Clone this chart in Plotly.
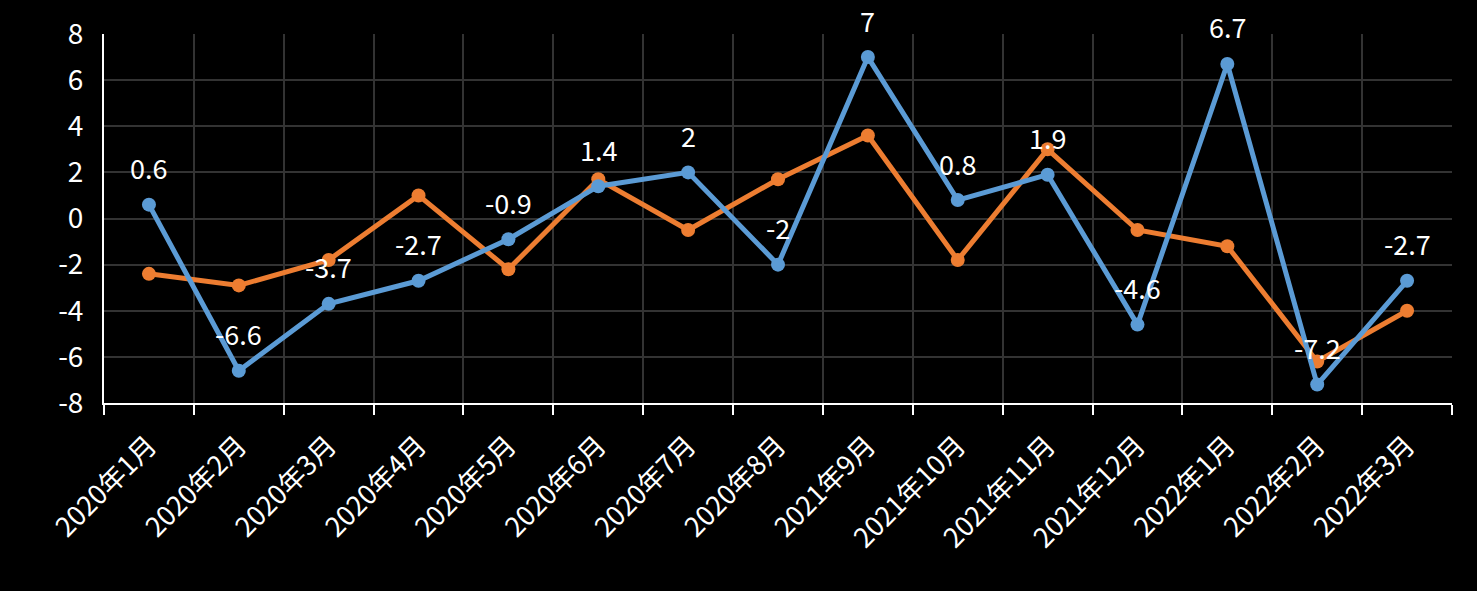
import plotly.graph_objects as go

months = ["2020年1月", "2020年2月", "2020年3月", "2020年4月", "2020年5月",
          "2020年6月", "2020年7月", "2020年8月", "2021年9月", "2021年10月",
          "2021年11月", "2021年12月", "2022年1月", "2022年2月", "2022年3月"]
blue_vals = [0.6, -6.6, -3.7, -2.7, -0.9, 1.4, 2, -2, 7, 0.8, 1.9, -4.6, 6.7, -7.2, -2.7]
orange_vals = [-2.4, -2.9, -1.8, 1.0, -2.2, 1.7, -0.5, 1.7, 3.6, -1.8, 3.0, -0.5, -1.2, -6.2, -4.0]
y_ticks = [-8, -6, -4, -2, 0, 2, 4, 6, 8]

FONT = "Noto Sans CJK SC"

fig = go.Figure()
fig.add_trace(go.Scatter(
    x=months, y=orange_vals, mode="lines+markers",
    line=dict(color="#ED7D31", width=5),
    marker=dict(color="#ED7D31", size=14),
    cliponaxis=False,
))
fig.add_trace(go.Scatter(
    x=months, y=blue_vals, mode="lines+markers",
    line=dict(color="#5B9BD5", width=5),
    marker=dict(color="#5B9BD5", size=14),
    cliponaxis=False,
))

# data labels for the blue series
for m, v in zip(months, blue_vals):
    fig.add_annotation(x=m, y=v, text=f"{v:g}", showarrow=False, yshift=37,
                       font=dict(color="white", size=27, family=FONT))

fig.update_layout(
    width=1477, height=591,
    paper_bgcolor="black", plot_bgcolor="black",
    margin=dict(l=104, r=25, t=26, b=188),
    showlegend=False,
    font=dict(family=FONT, color="white", size=27),
)
fig.update_xaxes(
    type="category", range=[-0.5, len(months) - 0.5],
    tickson="boundaries", ticks="outside", ticklen=10,
    tickcolor="white", tickwidth=2, tickangle=-45, ticklabelstandoff=14,
    showline=True, linecolor="white", linewidth=2,
    showgrid=True, gridcolor="#333333", gridwidth=1.5,
    tickfont=dict(size=27, color="white", family=FONT),
)
fig.update_yaxes(
    range=[-8, 8], tickvals=y_ticks, ticktext=[str(t) for t in y_ticks],
    showline=True, linecolor="white", linewidth=2,
    showgrid=True, gridcolor="#333333", gridwidth=1.5,
    zeroline=False, ticks="", ticklabelstandoff=13,
    tickfont=dict(size=28, color="white", family=FONT),
)

fig.write_html("out.html", config={"displayModeBar": False},
               post_script="document.body.style.margin='0';document.body.style.background='black';")
